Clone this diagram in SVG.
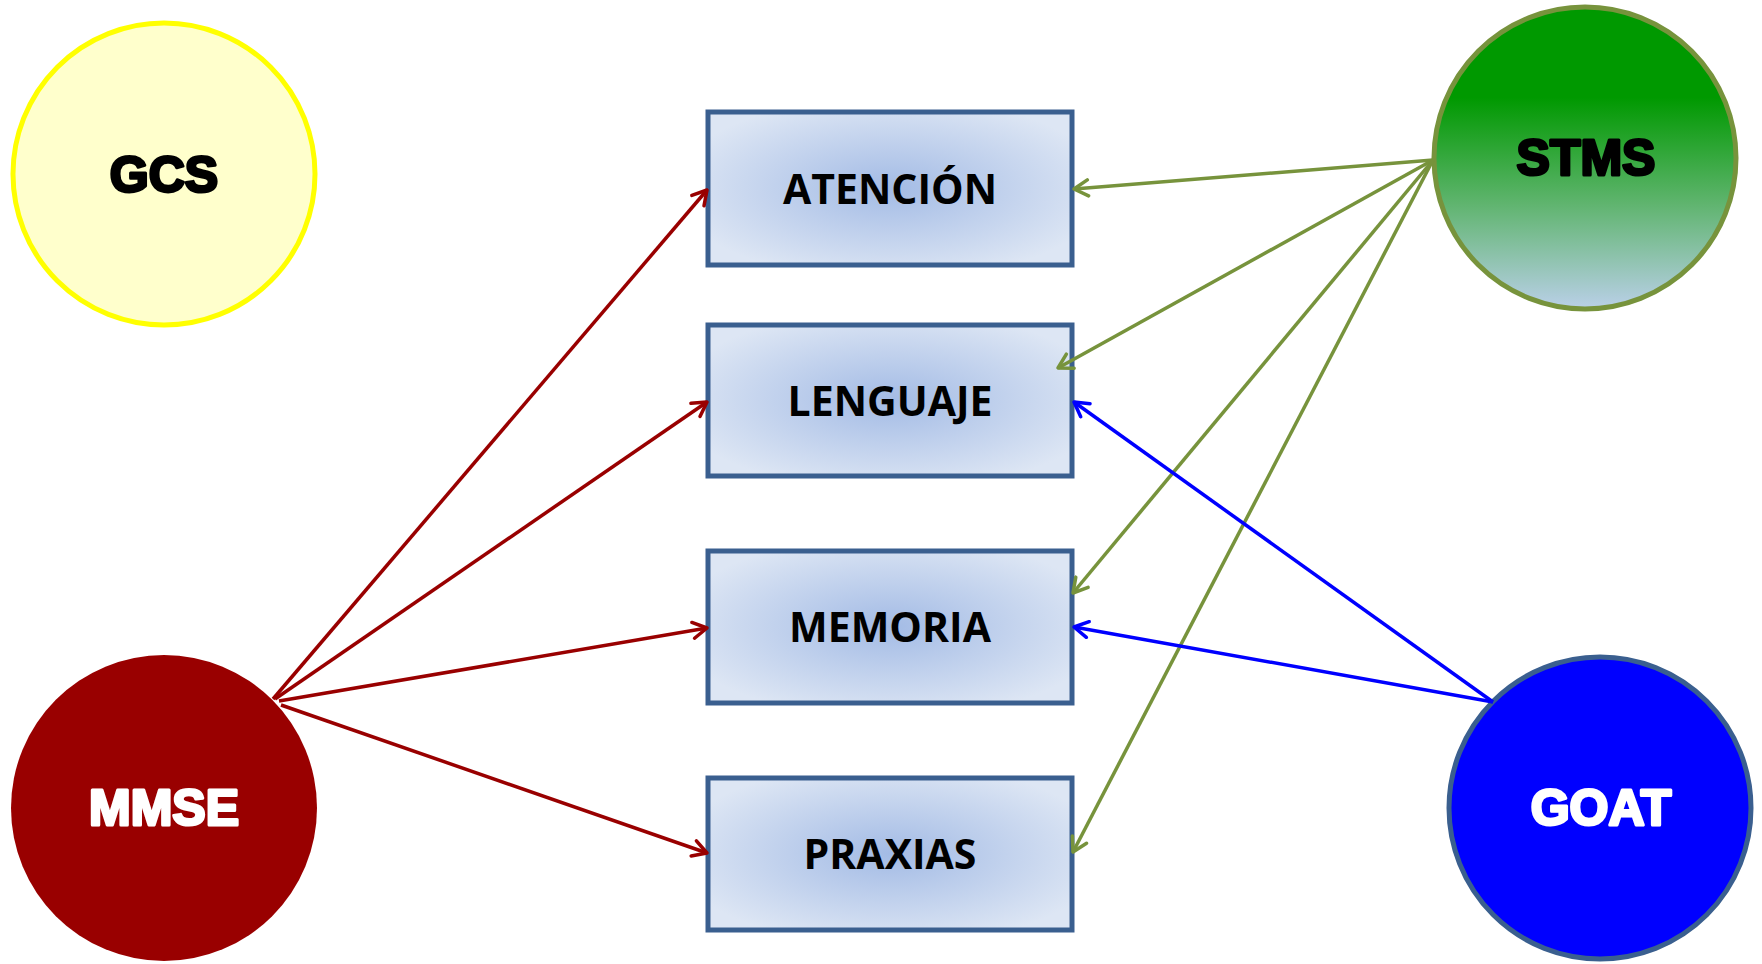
<svg xmlns="http://www.w3.org/2000/svg" width="1762" height="964" viewBox="0 0 1762 964">
<style>
.box{stroke:#3a5f8f;stroke-width:5;fill:url(#boxg)}
.bt{font-family:"Open Sans","Liberation Sans",sans-serif;font-weight:700;font-size:41px;fill:#000;text-anchor:middle}
.ct{font-family:"Liberation Sans",Arial,sans-serif;font-weight:900;font-size:50px;text-anchor:middle;stroke-width:3;stroke-linejoin:round}
.red{stroke:#990000;stroke-width:3.5;fill:none}
.grn{stroke:#77933c;stroke-width:3.5;fill:none}
.blu{stroke:#0000ff;stroke-width:3.5;fill:none}
</style>
<defs>
<radialGradient id="boxg" cx="0.5" cy="0.5" r="0.6">
<stop offset="0" stop-color="#a3bbe5"/>
<stop offset="1" stop-color="#dde6f4"/>
</radialGradient>
<linearGradient id="stmsg" x1="0" y1="0" x2="0" y2="1">
<stop offset="0" stop-color="#009900"/>
<stop offset="0.3" stop-color="#009900"/>
<stop offset="0.65" stop-color="#5fb46e"/>
<stop offset="1" stop-color="#bad0e8"/>
</linearGradient>
<marker id="ar" viewBox="0 0 20 20" refX="18" refY="10" markerWidth="20" markerHeight="20" markerUnits="userSpaceOnUse" orient="auto">
<path d="M4,2 L18,10 L4,18" fill="none" stroke="#990000" stroke-width="3.5" stroke-linecap="round" stroke-linejoin="round"/>
</marker>
<marker id="ag" viewBox="0 0 20 20" refX="18" refY="10" markerWidth="20" markerHeight="20" markerUnits="userSpaceOnUse" orient="auto">
<path d="M4,2 L18,10 L4,18" fill="none" stroke="#77933c" stroke-width="3.5" stroke-linecap="round" stroke-linejoin="round"/>
</marker>
<marker id="ab" viewBox="0 0 20 20" refX="18" refY="10" markerWidth="20" markerHeight="20" markerUnits="userSpaceOnUse" orient="auto">
<path d="M4,2 L18,10 L4,18" fill="none" stroke="#0000ff" stroke-width="3.5" stroke-linecap="round" stroke-linejoin="round"/>
</marker>
</defs>
<rect width="1762" height="964" fill="#ffffff"/>

<g id="gcs">
<circle cx="164" cy="174" r="151" fill="#ffffcc" stroke="#ffff00" stroke-width="5"/>
<text class="ct" x="164" y="192" fill="#000" stroke="#000">GCS</text>
</g>

<g id="stms">
<circle cx="1585" cy="158" r="151" fill="url(#stmsg)" stroke="#77933c" stroke-width="5"/>
<text class="ct" x="1586" y="175" fill="#000" stroke="#000">STMS</text>
</g>

<g id="mmse">
<circle cx="164" cy="808" r="153" fill="#990000"/>
<text class="ct" x="164" y="825" fill="#fff" stroke="#fff">MMSE</text>
</g>

<g id="goat">
<circle cx="1600" cy="808" r="151" fill="#0000ff" stroke="#3a5f8f" stroke-width="5"/>
<text class="ct" x="1601" y="825" fill="#fff" stroke="#fff">GOAT</text>
</g>

<g id="atencion">
<rect class="box" x="708" y="112" width="364" height="153"/>
<text class="bt" x="890" y="204">ATENCIÓN</text>
</g>
<g id="lenguaje">
<rect class="box" x="708" y="325" width="364" height="151"/>
<text class="bt" x="890" y="416">LENGUAJE</text>
</g>
<g id="memoria">
<rect class="box" x="708" y="551" width="364" height="152"/>
<text class="bt" x="890" y="642">MEMORIA</text>
</g>
<g id="praxias">
<rect class="box" x="708" y="778" width="364" height="152"/>
<text class="bt" x="890" y="869">PRAXIAS</text>
</g>

<g id="connectors">
<line class="red" x1="273" y1="699" x2="707" y2="190" marker-end="url(#ar)"/>
<line class="red" x1="275" y1="699" x2="707" y2="402" marker-end="url(#ar)"/>
<line class="red" x1="279" y1="701" x2="707" y2="628" marker-end="url(#ar)"/>
<line class="red" x1="281" y1="705" x2="707" y2="853" marker-end="url(#ar)"/>
<line class="grn" x1="1433" y1="160" x2="1074" y2="189" marker-end="url(#ag)"/>
<line class="grn" x1="1433" y1="160" x2="1058" y2="368" marker-end="url(#ag)"/>
<line class="grn" x1="1433" y1="160" x2="1073" y2="593" marker-end="url(#ag)"/>
<line class="grn" x1="1433" y1="160" x2="1073" y2="852" marker-end="url(#ag)"/>
<line class="blu" x1="1493" y1="702" x2="1074" y2="402" marker-end="url(#ab)"/>
<line class="blu" x1="1493" y1="702" x2="1074" y2="627" marker-end="url(#ab)"/>
</g>
</svg>
